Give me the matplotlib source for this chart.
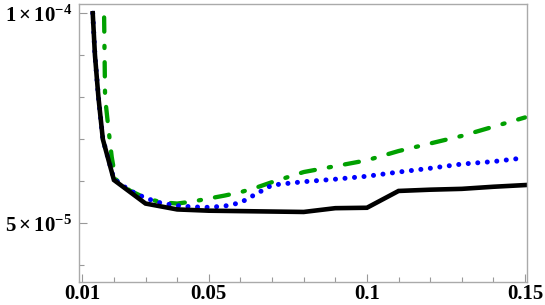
import matplotlib
matplotlib.use("Agg")
import matplotlib.pyplot as plt
from matplotlib.ticker import MultipleLocator

# data (y in units of 1e-5)
x_black = [0.0133, 0.014, 0.0151, 0.0165, 0.02, 0.03, 0.04, 0.05, 0.06, 0.07, 0.08, 0.09, 0.10, 0.11, 0.12, 0.13, 0.14, 0.15]
y_black = [10.0, 9.0, 8.0, 7.0, 6.03, 5.47, 5.33, 5.30, 5.29, 5.28, 5.27, 5.36, 5.37, 5.77, 5.80, 5.82, 5.87, 5.91]

x_blue = [0.0133, 0.014, 0.0151, 0.0165, 0.02, 0.025, 0.03, 0.035, 0.04, 0.045, 0.05, 0.055, 0.06, 0.065, 0.07,
          0.08, 0.09, 0.10, 0.11, 0.12, 0.13, 0.14, 0.15]
y_blue = [10.0, 9.0, 8.0, 7.0, 6.05, 5.78, 5.60, 5.48, 5.42, 5.39, 5.38, 5.41, 5.49, 5.70, 5.91,
          5.99, 6.05, 6.12, 6.22, 6.31, 6.41, 6.47, 6.56]

x_green = [0.0169, 0.0172, 0.0182, 0.0193, 0.0205, 0.025, 0.03, 0.035, 0.04, 0.045, 0.05, 0.055, 0.06, 0.065, 0.07,
           0.08, 0.09, 0.10, 0.11, 0.12, 0.13, 0.14, 0.15]
y_green = [9.9, 8.0, 7.3, 6.58, 6.05, 5.78, 5.60, 5.50, 5.47, 5.52, 5.59, 5.66, 5.74, 5.85, 5.98,
           6.22, 6.36, 6.50, 6.72, 6.90, 7.08, 7.30, 7.52]

x_ticks = [0.01, 0.05, 0.1, 0.15]
x_tick_labels = ["0.01", "0.05", "0.1", "0.15"]
y_ticks = [5e-5, 1e-4]
y_tick_labels = [r"$\mathbf{5\times10^{-5}}$", r"$\mathbf{1\times10^{-4}}$"]

plt.rcParams["font.family"] = "Liberation Serif"
plt.rcParams["font.weight"] = "bold"
plt.rcParams["mathtext.fontset"] = "custom"
plt.rcParams["mathtext.rm"] = "Liberation Serif:bold"
plt.rcParams["mathtext.bf"] = "Liberation Serif:bold"
plt.rcParams["mathtext.it"] = "Liberation Serif:italic:bold"

fig = plt.figure(figsize=(5.45, 3.05), dpi=100)
ax = fig.add_axes([0.1455, 0.0764, 0.822, 0.9105])

scale = 1e-5
ax.plot(x_green, [v * scale for v in y_green], color="#00a000", lw=3.1,
        dashes=(3.3, 3.3, 0.5, 3.3), dash_capstyle="round", solid_capstyle="round")
ax.plot(x_blue, [v * scale for v in y_blue], color="#0000ff", lw=3.6,
        dashes=(0.01, 1.9), dash_capstyle="round")
ax.plot(x_black, [v * scale for v in y_black], color="black", lw=3.3,
        solid_joinstyle="miter")

ax.set_xlim(0.00905, 0.1507)
ax.set_ylim(3.61e-5, 1.022e-4)

ax.set_xticks(x_ticks)
ax.set_xticklabels(x_tick_labels)
ax.set_yticks(y_ticks)
ax.set_yticklabels(y_tick_labels)
ax.xaxis.set_minor_locator(MultipleLocator(0.01))
ax.yaxis.set_minor_locator(MultipleLocator(1e-5))

ax.tick_params(which="both", direction="in", color="#999999", width=0.8,
               top=False, right=False, labelsize=15)
ax.tick_params(which="major", length=6)
ax.tick_params(which="minor", length=3.5)
ax.tick_params(axis="x", which="major", pad=2)
ax.tick_params(axis="y", which="major", pad=5, labelsize=15)

for s in ax.spines.values():
    s.set_color("#aaaaaa")
    s.set_linewidth(1.0)

fig.savefig("out.png", dpi=100)
